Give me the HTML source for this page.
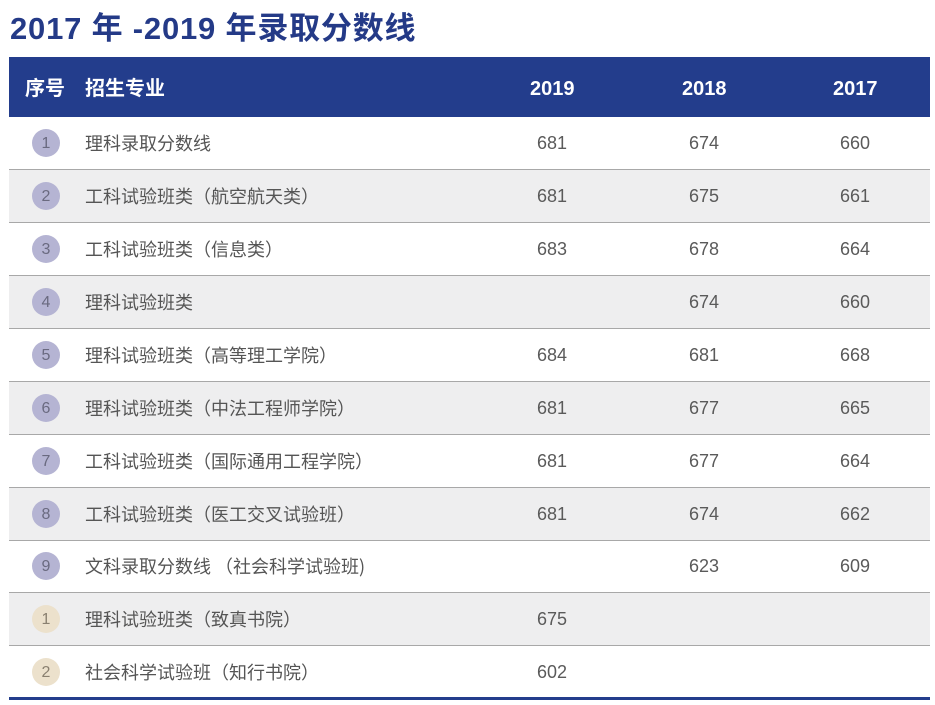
<!DOCTYPE html>
<html><head><meta charset="utf-8"><style>
body{margin:0;width:935px;height:705px;background:#fff;position:relative;overflow:hidden;font-family:"Liberation Sans","Noto Sans CJK SC",sans-serif;}
.cj{font-family:"Noto Sans CJK SC",sans-serif}
.t{position:absolute;left:10px;top:0px;height:52px;line-height:52px;font-size:31px;font-weight:bold;color:#243a87;white-space:nowrap;letter-spacing:0.8px}
.hd{position:absolute;left:9px;top:57px;width:921px;height:60px;background:#233d8c;color:#fff;font-size:20px;font-weight:bold}
.hd span{position:absolute;top:0;height:60px;line-height:60px;white-space:nowrap}
.hd span.num{top:2px}
.r{position:absolute;left:9px;width:921px;height:53px;color:#555;font-size:18px;box-sizing:border-box;border-bottom:1.5px solid #a8a8a8}
.r.g{background:#eeeeef}
.c{position:absolute;left:23px;top:12px;width:28px;height:28px;border-radius:50%;background:#b5b4d3;color:#6a6a80;font-size:16px;text-align:center;line-height:30px}
.c.y{background:#ece1cc;color:#8a8070}
.n{position:absolute;left:76px;top:0;height:52px;line-height:52px;white-space:nowrap;font-family:"Noto Sans CJK SC",sans-serif;font-size:18px;color:#555}
.v{position:absolute;top:0;height:52px;line-height:52px;width:60px;margin-left:-30px;text-align:center;color:#5a5a5a}
.b{position:absolute;left:9px;top:697px;width:921px;height:3px;background:#233d8c}
</style></head><body>
<div class="t">2017 <span class="cj">年</span> -2019 <span class="cj">年录取分数线</span></div>
<div class="hd"><span class="cj" style="left:16px">序号</span><span class="cj" style="left:76px">招生专业</span><span class="num" style="left:521px">2019</span><span class="num" style="left:673px">2018</span><span class="num" style="left:824px">2017</span></div>

<div class="r" style="top:117px"><div class="c">1</div><div class="n">理科录取分数线</div><div class="v" style="left:543px">681</div><div class="v" style="left:695px">674</div><div class="v" style="left:846px">660</div></div>
<div class="r g" style="top:170px"><div class="c">2</div><div class="n">工科试验班类（航空航天类）</div><div class="v" style="left:543px">681</div><div class="v" style="left:695px">675</div><div class="v" style="left:846px">661</div></div>
<div class="r" style="top:223px"><div class="c">3</div><div class="n">工科试验班类（信息类）</div><div class="v" style="left:543px">683</div><div class="v" style="left:695px">678</div><div class="v" style="left:846px">664</div></div>
<div class="r g" style="top:276px"><div class="c">4</div><div class="n">理科试验班类</div><div class="v" style="left:695px">674</div><div class="v" style="left:846px">660</div></div>
<div class="r" style="top:329px"><div class="c">5</div><div class="n">理科试验班类（高等理工学院）</div><div class="v" style="left:543px">684</div><div class="v" style="left:695px">681</div><div class="v" style="left:846px">668</div></div>
<div class="r g" style="top:382px"><div class="c">6</div><div class="n">理科试验班类（中法工程师学院）</div><div class="v" style="left:543px">681</div><div class="v" style="left:695px">677</div><div class="v" style="left:846px">665</div></div>
<div class="r" style="top:435px"><div class="c">7</div><div class="n">工科试验班类（国际通用工程学院）</div><div class="v" style="left:543px">681</div><div class="v" style="left:695px">677</div><div class="v" style="left:846px">664</div></div>
<div class="r g" style="top:488px"><div class="c">8</div><div class="n">工科试验班类（医工交叉试验班）</div><div class="v" style="left:543px">681</div><div class="v" style="left:695px">674</div><div class="v" style="left:846px">662</div></div>
<div class="r" style="top:540px"><div class="c">9</div><div class="n">文科录取分数线 （社会科学试验班)</div><div class="v" style="left:695px">623</div><div class="v" style="left:846px">609</div></div>
<div class="r g" style="top:593px"><div class="c y">1</div><div class="n">理科试验班类（致真书院）</div><div class="v" style="left:543px">675</div></div>
<div class="r" style="top:646px;border-bottom:none"><div class="c y">2</div><div class="n">社会科学试验班（知行书院）</div><div class="v" style="left:543px">602</div></div>
<div class="b"></div>
</body></html>
